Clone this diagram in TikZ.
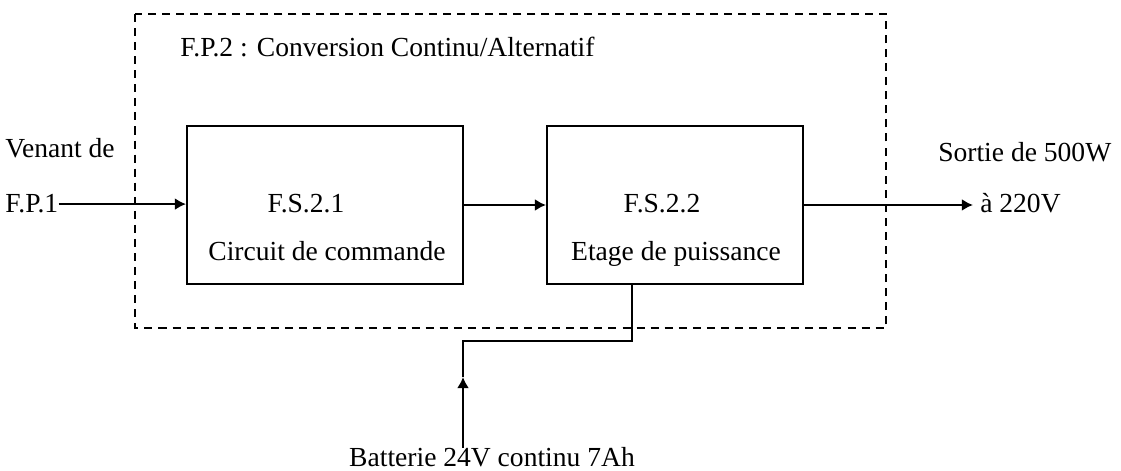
\documentclass[tikz,border=0pt]{standalone}
\usepackage{fontspec}
\setmainfont{Liberation Serif}
\usetikzlibrary{arrows.meta}
\tikzstyle{frame} = [draw=black, line width=1.3pt, dash pattern=on 5.7pt off 4.3pt]
\tikzstyle{block} = [rectangle, minimum height=3.925cm, inner sep=0pt, draw=black, line width=1.4pt]
\tikzstyle{txt} = [inner sep=0pt]
\tikzstyle{wire} = [line width=1.4pt]
\tikzstyle{arrow} = [line width=1.4pt,->,>={Latex[length=2.8mm,width=3mm]}]

\begin{document}
\begin{tikzpicture}[x=0.025cm, y=-0.025cm, font=\fontsize{19.6}{23}\selectfont]
\useasboundingbox (0,0) rectangle (1121,471);

\draw [frame] (135,14) rectangle (886,328);
\node (title) [txt, anchor=base west] at (180,57) {F.P.2 : Conversion Continu/Alternatif};

\node (fs21) [block, minimum width=6.9cm] at (325,205) {};
\node (fs21a) [txt, anchor=base] at (306,213) {F.S.2.1};
\node (fs21b) [txt, anchor=base] at (327,261) {Circuit de commande};

\node (fs22) [block, minimum width=6.4cm] at (675,205) {};
\node (fs22a) [txt, anchor=base] at (662,213) {F.S.2.2};
\node (fs22b) [txt, anchor=base] at (676,261) {Etage de puissance};

\node (venant) [txt, anchor=base west] at (5,158) {Venant de};
\node (fp1) [txt, anchor=base west] at (5,213) {F.P.1};

\node (sortie) [txt, anchor=base west] at (938,162) {Sortie de 500W};
\node (out) [txt, anchor=base west] at (980,213) {à 220V};

\node (batt) [txt, anchor=base] at (492,467) {Batterie 24V continu 7Ah};
\coordinate (tip) at (463,377);
\coordinate (bend) at (463,341);
\path (fs22.south) ++(-43,0) coordinate (feed);

\draw [arrow] (fp1.east) -- (fp1.east -| fs21.west);
\draw [arrow] (fs21) -- (fs22);
\draw [arrow, shorten >=5pt] (fs22.east) -- (fs22.east -| out.west);
\draw [arrow] (batt.north -| tip) -- (tip);
\draw [wire] (tip) -- (bend) -| (feed);
\end{tikzpicture}
\end{document}
